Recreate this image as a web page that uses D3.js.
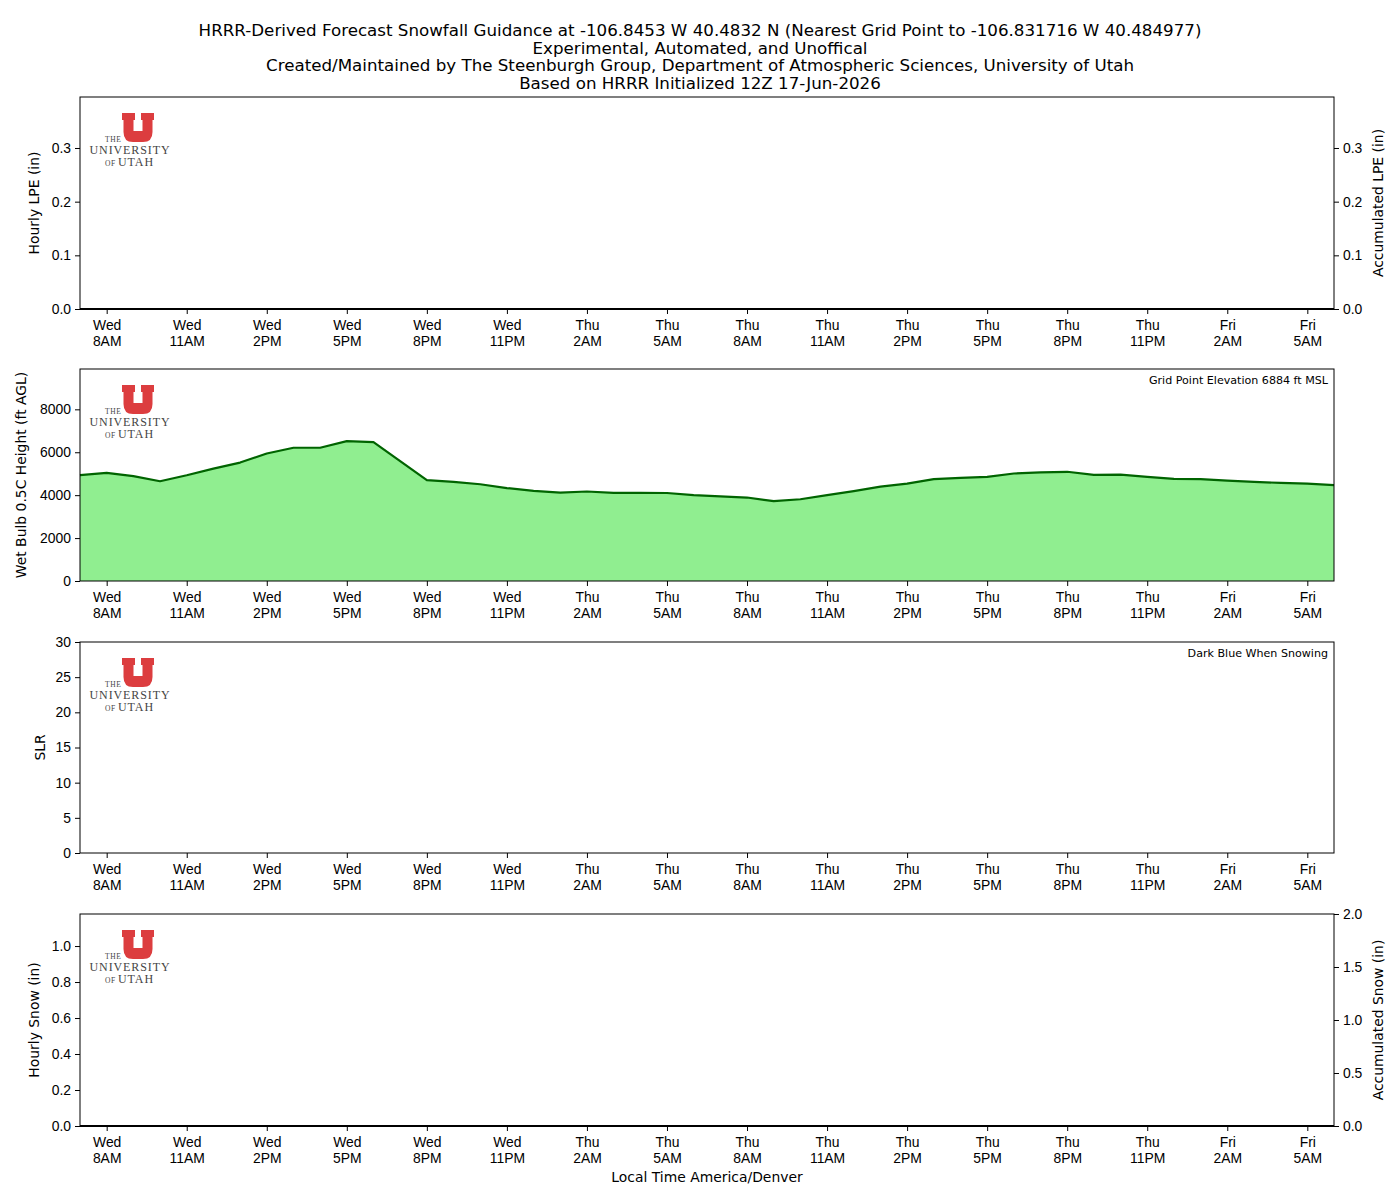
<!DOCTYPE html>
<html>
<head>
<meta charset="utf-8">
<script src="https://cdn.jsdelivr.net/npm/d3@7"></script>
<style>
  body { margin: 0; background: #fff; }
  svg { font-family: "DejaVu Sans", sans-serif; }
  .tick text { font-size: 13.9px; fill: #000; }
  .domain { display: none; }
</style>
</head>
<body>
<script>
// hours after 7AM Wed local, 0..47
var hours = d3.range(48);

// wet bulb 0.5C height (ft AGL)
var wetBulb = [4930, 5040, 4890, 4650, 4930, 5240, 5520, 5940, 6210, 6210,
  6520, 6470, 5590, 4700, 4620, 4510, 4330, 4200, 4120, 4170,
  4110, 4110, 4100, 4000, 3940, 3890, 3720, 3810, 4000, 4190,
  4400, 4540, 4750, 4810, 4850, 5010, 5060, 5090, 4950, 4960,
  4850, 4760, 4750, 4680, 4620, 4570, 4540, 4470];

// precip / snow are all zero in this run
var hourlyLPE = [0,0,0,0,0,0,0,0,0,0,0,0,0,0,0,0,0,0,0,0,0,0,0,0,
  0,0,0,0,0,0,0,0,0,0,0,0,0,0,0,0,0,0,0,0,0,0,0,0];
var accumLPE = [0,0,0,0,0,0,0,0,0,0,0,0,0,0,0,0,0,0,0,0,0,0,0,0,
  0,0,0,0,0,0,0,0,0,0,0,0,0,0,0,0,0,0,0,0,0,0,0,0];
var accumSnow = [0,0,0,0,0,0,0,0,0,0,0,0,0,0,0,0,0,0,0,0,0,0,0,0,
  0,0,0,0,0,0,0,0,0,0,0,0,0,0,0,0,0,0,0,0,0,0,0,0];

var tickHours = [1, 4, 7, 10, 13, 16, 19, 22, 25, 28, 31, 34, 37, 40, 43, 46];
var tickDays = ["Wed","Wed","Wed","Wed","Wed","Wed","Thu","Thu","Thu","Thu","Thu","Thu","Thu","Thu","Fri","Fri"];
var tickTimes = ["8AM","11AM","2PM","5PM","8PM","11PM","2AM","5AM","8AM","11AM","2PM","5PM","8PM","11PM","2AM","5AM"];

var titleLines = [
  "HRRR-Derived Forecast Snowfall Guidance at -106.8453 W 40.4832 N (Nearest Grid Point to -106.831716 W 40.484977)",
  "Experimental, Automated, and Unoffical",
  "Created/Maintained by The Steenburgh Group, Department of Atmospheric Sciences, University of Utah",
  "Based on HRRR Initialized 12Z 17-Jun-2026"
];

var width = 1400, height = 1200;
var left = 80, right = 1334;

var svg = d3.select('body').append('svg')
  .attr('width', width)
  .attr('height', height);

var x = d3.scaleLinear().domain([0, 47]).range([left, right]);

svg.append('g').selectAll('text')
  .data(titleLines)
  .enter().append('text')
  .attr('x', 700)
  .attr('y', function(d, i) { return 36 + i * 17.6; })
  .attr('text-anchor', 'middle')
  .style('font-size', '16.7px')
  .text(function(d) { return d; });

var panels = [
  { top: 97, bottom: 309, yMax: 0.395, yTicks: [0, 0.1, 0.2, 0.3], fmt: '.1f', label: 'Hourly LPE (in)', labelX: 39,
    rMax: 0.395, rTicks: [0, 0.1, 0.2, 0.3], rFmt: '.1f', rLabel: 'Accumulated LPE (in)' },
  { top: 369, bottom: 581, yMax: 9880, yTicks: [0, 2000, 4000, 6000, 8000], fmt: 'd', label: 'Wet Bulb 0.5C Height (ft AGL)', labelX: 26,
    note: 'Grid Point Elevation 6884 ft MSL' },
  { top: 642, bottom: 853, yMax: 30, yTicks: [0, 5, 10, 15, 20, 25, 30], fmt: 'd', label: 'SLR', labelX: 45,
    note: 'Dark Blue When Snowing' },
  { top: 914, bottom: 1126, yMax: 1.178, yTicks: [0, 0.2, 0.4, 0.6, 0.8, 1.0], fmt: '.1f', label: 'Hourly Snow (in)', labelX: 39,
    rMax: 2.0, rTicks: [0, 0.5, 1.0, 1.5, 2.0], rFmt: '.1f', rLabel: 'Accumulated Snow (in)' }
];

panels.forEach(function(p, pi) {
  var y = d3.scaleLinear().domain([0, p.yMax]).range([p.bottom, p.top]);
  var g = svg.append('g');

  // data
  if (pi === 1) {
    var area = d3.area()
      .x(function(d, i) { return x(hours[i]); })
      .y0(y(0))
      .y1(function(d) { return y(d); });
    var line = d3.line()
      .x(function(d, i) { return x(hours[i]); })
      .y(function(d) { return y(d); });
    g.append('path').datum(wetBulb)
      .attr('d', area)
      .style('fill', '#90ee90');
    g.append('path').datum(wetBulb)
      .attr('d', line)
      .style('fill', 'none')
      .style('stroke', '#006400')
      .style('stroke-width', 2.2)
      .style('stroke-linejoin', 'round');
  }
  if (pi === 0 || pi === 3) {
    var accum = pi === 0 ? accumLPE : accumSnow;
    var yr0 = d3.scaleLinear().domain([0, p.rMax]).range([p.bottom, p.top]);
    g.append('path').datum(pi === 0 ? hourlyLPE : accum)
      .attr('d', d3.line()
        .x(function(d, i) { return x(hours[i]); })
        .y(function(d) { return yr0(d); }))
      .style('fill', 'none')
      .style('stroke', '#000')
      .style('stroke-width', 2.2);
  }

  // logo
  var logo = g.append('g').attr('transform', 'translate(122,' + (p.top + 16) + ')');
  logo.append('path')
    .attr('d', 'M0,0 H13 V7 H11.5 V18 H20.5 V7 H19 V0 H32 V7 H30.5 V19 Q30.5,29 21,29 H11 Q1.5,29 1.5,19 V7 H0 Z')
    .style('fill', '#dc3d3f');
  var serif = '"Liberation Serif", serif';
  logo.append('text').attr('x', -17).attr('y', 29).text('THE')
    .style('font-family', serif).style('font-size', '7.5px').style('fill', '#444').style('letter-spacing', '0.6px');
  logo.append('text').attr('x', -32.5).attr('y', 41).text('UNIVERSITY')
    .style('font-family', serif).style('font-size', '12px').style('fill', '#444').style('letter-spacing', '0.9px');
  logo.append('text').attr('x', -17).attr('y', 53).text('OF')
    .style('font-family', serif).style('font-size', '7.5px').style('fill', '#444').style('letter-spacing', '0.6px');
  logo.append('text').attr('x', -4).attr('y', 53).text('UTAH')
    .style('font-family', serif).style('font-size', '12px').style('fill', '#444').style('letter-spacing', '0.9px');

  // frame
  g.append('rect')
    .attr('x', left).attr('y', p.top)
    .attr('width', right - left).attr('height', p.bottom - p.top)
    .style('fill', 'none').style('stroke', '#000').style('stroke-width', 1);

  // axes
  var xAxis = d3.axisBottom(x).tickValues(tickHours).tickSize(5).tickPadding(6).tickFormat('');
  var ax = g.append('g').attr('transform', 'translate(0,' + p.bottom + ')').call(xAxis);
  ax.selectAll('.tick text').each(function(d, i) {
    var t = d3.select(this);
    t.append('tspan').attr('x', 0).attr('dy', '0.71em').text(tickDays[i]);
    t.append('tspan').attr('x', 0).attr('dy', '1.15em').text(tickTimes[i]);
  });

  var yAxis = d3.axisLeft(y).tickValues(p.yTicks).tickSize(5).tickPadding(4).tickFormat(d3.format(p.fmt));
  g.append('g').attr('transform', 'translate(' + left + ',0)').call(yAxis);

  g.append('text')
    .attr('transform', 'translate(' + p.labelX + ',' + (p.top + p.bottom) / 2 + ') rotate(-90)')
    .attr('text-anchor', 'middle')
    .style('font-size', '13.9px')
    .text(p.label);

  if (p.rMax) {
    var yr = d3.scaleLinear().domain([0, p.rMax]).range([p.bottom, p.top]);
    var rAxis = d3.axisRight(yr).tickValues(p.rTicks).tickSize(5).tickPadding(4).tickFormat(d3.format(p.rFmt));
    g.append('g').attr('transform', 'translate(' + right + ',0)').call(rAxis);
    g.append('text')
      .attr('transform', 'translate(1383,' + (p.top + p.bottom) / 2 + ') rotate(-90)')
      .attr('text-anchor', 'middle')
      .style('font-size', '13.9px')
      .text(p.rLabel);
  }

  if (p.note) {
    g.append('text')
      .attr('x', 1328).attr('y', p.top + 15)
      .attr('text-anchor', 'end')
      .style('font-size', '11.1px')
      .text(p.note);
  }
});

svg.append('text')
  .attr('x', (left + right) / 2).attr('y', 1182)
  .attr('text-anchor', 'middle')
  .style('font-size', '13.9px')
  .text('Local Time America/Denver');
</script>
</body>
</html>
